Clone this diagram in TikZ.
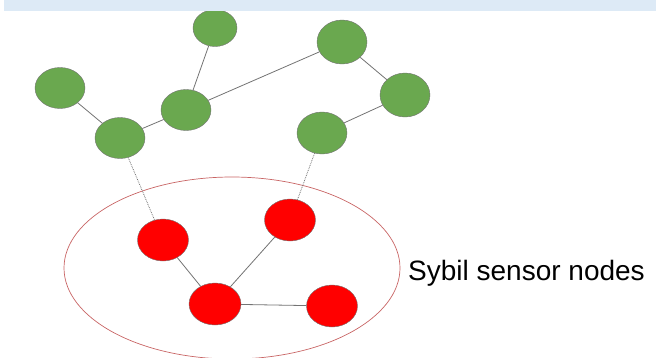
\documentclass[tikz,border=0pt]{standalone}
\usepackage{fontspec}
\setmainfont{Liberation Sans}
\usetikzlibrary{shapes.geometric}
\definecolor{leafgreen}{RGB}{106,168,79}
\definecolor{ringred}{RGB}{200,100,100}
\definecolor{bandblue}{RGB}{221,234,246}
\tikzset{
  honest/.style={ellipse,draw=black!55,fill=leafgreen,minimum width=50pt,minimum height=41pt,inner sep=0pt},
  sybil/.style={ellipse,draw=black!55,fill=red,minimum width=51pt,minimum height=42pt,inner sep=0pt},
  link/.style={draw=black!55,line width=0.8pt},
  attack/.style={draw=black!55,line width=0.8pt,densely dotted}
}
\begin{document}
\begin{tikzpicture}[x=1pt,y=-1pt]
			\useasboundingbox (0,0) rectangle (656,357);
			\begin{scope}
			\clip (0,0) rectangle (656,357);
			% sybil region
			\draw[ringred,line width=0.7pt] (232,268) ellipse (168 and 91);
			% honest part
			\node[honest] (g1) at (60,88) {};
			\node[honest] (g2) at (120,138) {};
			\node[honest] (g3) at (186,110) {};
			\node[honest,minimum width=44pt,minimum height=37pt] (g4) at (215,28) {};
			\node[honest,minimum height=44pt] (g5) at (342,42) {};
			\node[honest,minimum height=44pt] (g6) at (405,95) {};
			\node[honest,minimum height=42pt] (g7) at (322,133) {};
			% sybil part
			\node[sybil] (r1) at (163,240) {};
			\node[sybil] (r2) at (290,220) {};
			\node[sybil,minimum width=52pt] (r3) at (215,304) {};
			\node[sybil] (r4) at (332,306) {};
			\draw[link] (g1) -- (g2);
			\draw[link] (g2) -- (g3);
			\draw[link] (g3) -- (g4);
			\draw[link] (g3) -- (g5);
			\draw[link] (g5) -- (g6);
			\draw[link] (g6) -- (g7);
			\draw[attack] (g2) -- (r1);
			\draw[attack] (g7) -- (r2);
			\draw[link] (r1) -- (r3);
			\draw[link] (r2) -- (r3);
			\draw[link] (r3) -- (r4);
			\fill[bandblue] (4,0) rectangle (656,11);
			\end{scope}
			\node[anchor=west,inner sep=0pt,font=\fontsize{28}{31}\selectfont] (lbl) at (408,273) {Sybil sensor nodes};
		\end{tikzpicture}
\end{document}
